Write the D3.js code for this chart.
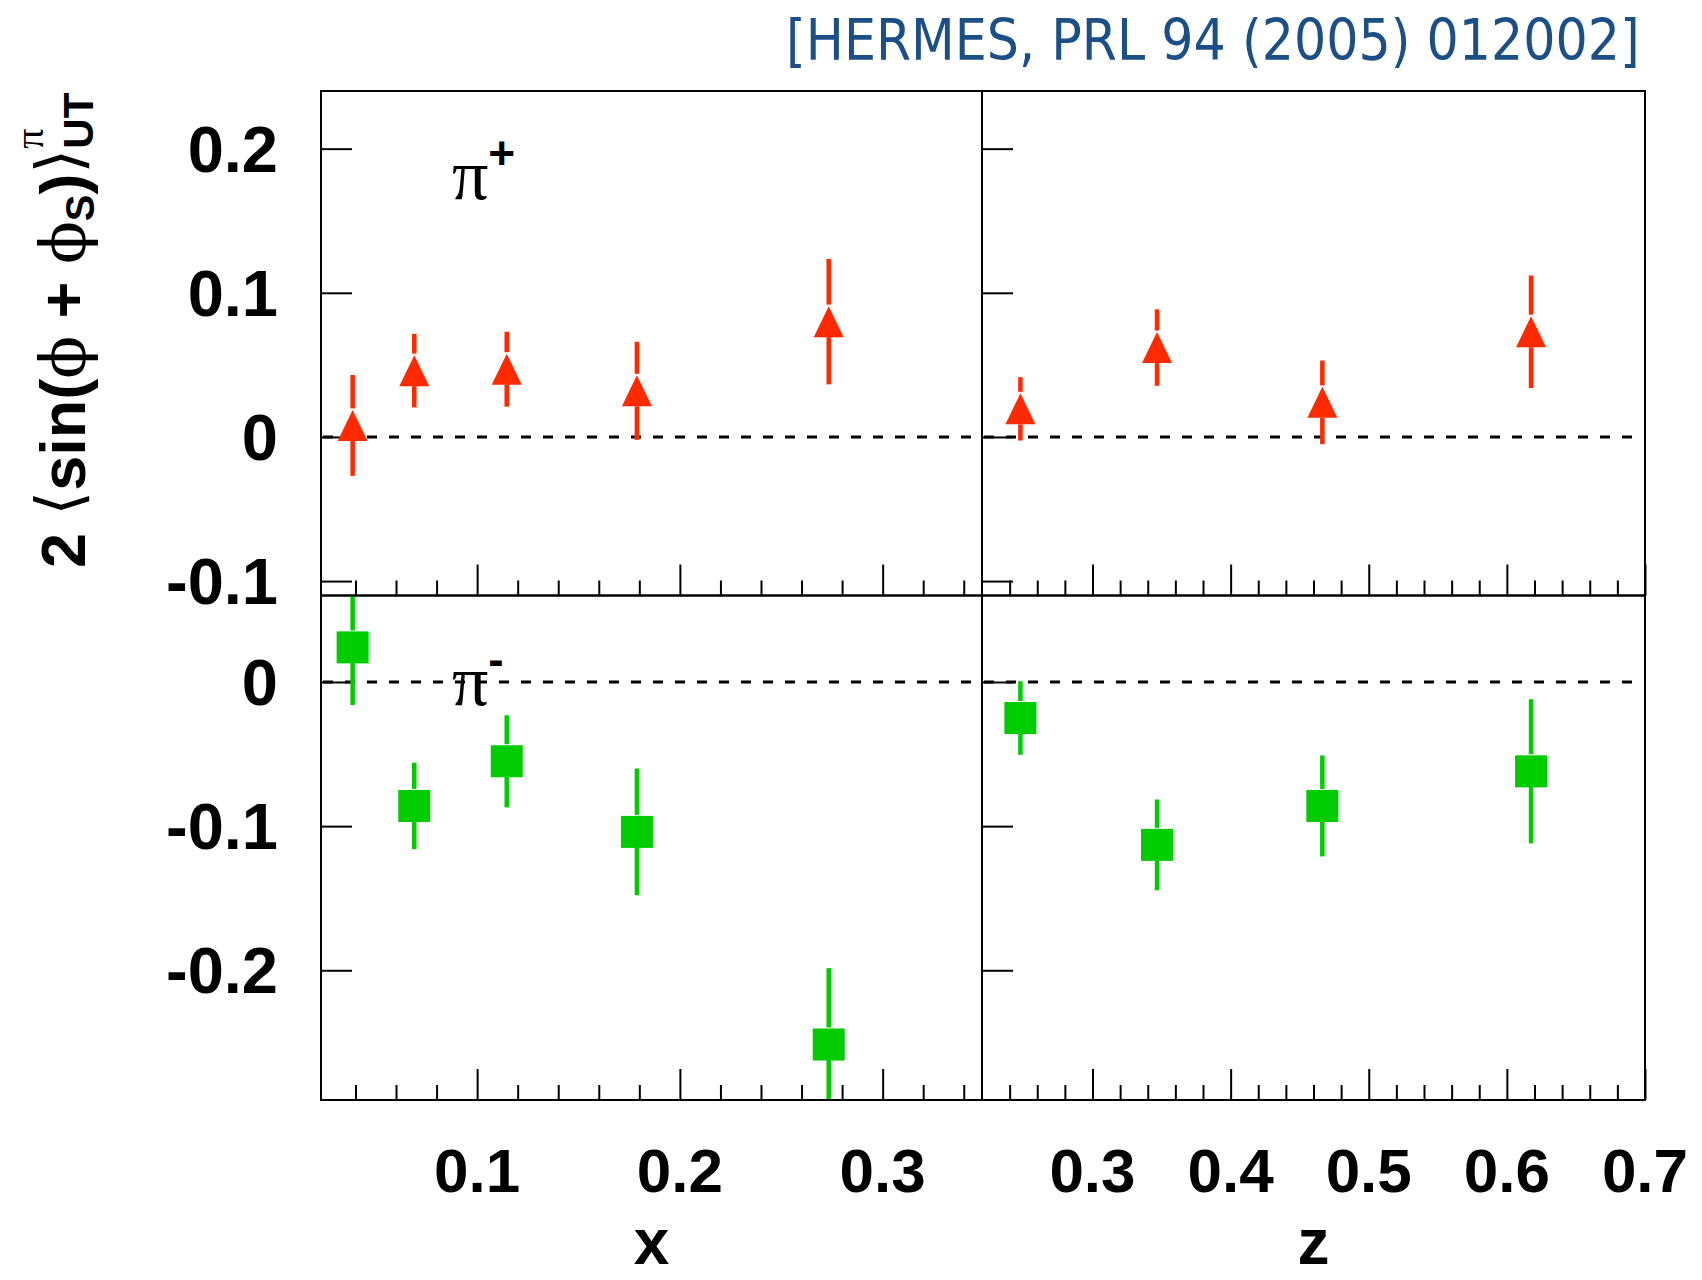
<!DOCTYPE html>
<html>
<head>
<meta charset="utf-8">
<script src="https://cdn.jsdelivr.net/npm/d3@7/dist/d3.min.js"></script>
<style>
  body { margin: 0; background: #fff; }
  svg { display: block; }
</style>
</head>
<body>
<div id="chart"></div>
<script>
// HERMES Collins-type moments, pi+ (top) and pi- (bottom), vs x (left) and z (right)

// bin centres
const xVals = [0.0386, 0.069, 0.1146, 0.1788, 0.2734];
const zVals = [0.2478, 0.3467, 0.4664, 0.6175];

// pi+ asymmetries and errors
const pipX = [0.008, 0.046, 0.047, 0.032, 0.080];
const pipXErr = [0.035, 0.0255, 0.026, 0.034, 0.0435];
const pipZ = [0.0195, 0.062, 0.024, 0.073];
const pipZErr = [0.022, 0.0265, 0.029, 0.039];

// pi- asymmetries and errors
const pimX = [0.024, -0.086, -0.055, -0.104, -0.2515];
const pimXErr = [0.040, 0.030, 0.032, 0.044, 0.053];
const pimZ = [-0.025, -0.113, -0.086, -0.062];
const pimZErr = [0.0255, 0.0315, 0.035, 0.050];

// ticks
const yTicksTop = [-0.1, 0, 0.1, 0.2];
const yTicksBot = [-0.2, -0.1, 0];
const yLabelsTop = ['-0.1', '0', '0.1', '0.2'];
const yLabelsBot = ['-0.2', '-0.1', '0'];
const xMajor = [0.1, 0.2, 0.3];
const xMinor = [0.04, 0.06, 0.08, 0.12, 0.14, 0.16, 0.18, 0.22, 0.24, 0.26, 0.28, 0.32, 0.34];
const xLabels = ['0.1', '0.2', '0.3'];
const zMajor = [0.3, 0.4, 0.5, 0.6, 0.7];
const zMinor = [0.24, 0.26, 0.28, 0.32, 0.34, 0.36, 0.38, 0.42, 0.44, 0.46, 0.48,
                0.52, 0.54, 0.56, 0.58, 0.62, 0.64, 0.66, 0.68];
const zLabels = ['0.3', '0.4', '0.5', '0.6', '0.7'];

const W = 1702, H = 1280;
const L = 321, M = 982, R = 1645;
const T = 91, MID = 595.5, B = 1100;

const RED = '#ff2a00';
const GREEN = '#00cc00';
const SANS = 'Liberation Sans, Arial, Helvetica, sans-serif';
const SERIF = 'Liberation Serif, Times New Roman, serif';
const PHI_FONT = 'DejaVu Serif, serif';

const xScale = d3.scaleLinear().domain([0.023, 0.349]).range([L, M]);
const zScale = d3.scaleLinear().domain([0.22, 0.70]).range([M, R]);
const yTop = d3.scaleLinear().domain([-0.11, 0.24]).range([MID, T]);
const yBot = d3.scaleLinear().domain([-0.29, 0.06]).range([B, MID]);

const svg = d3.select('#chart').append('svg')
  .attr('width', W)
  .attr('height', H);

svg.append('rect').attr('width', W).attr('height', H).attr('fill', '#fff');

const defs = svg.append('defs');

const panels = [
  {id: 'ul', sx: xScale, sy: yTop, xs: xVals, vals: pipX, errs: pipXErr, marker: 'tri', color: RED},
  {id: 'ur', sx: zScale, sy: yTop, xs: zVals, vals: pipZ, errs: pipZErr, marker: 'tri', color: RED},
  {id: 'll', sx: xScale, sy: yBot, xs: xVals, vals: pimX, errs: pimXErr, marker: 'sq', color: GREEN},
  {id: 'lr', sx: zScale, sy: yBot, xs: zVals, vals: pimZ, errs: pimZErr, marker: 'sq', color: GREEN}
];

panels.forEach(function(p) {
  const x0 = p.sx.range()[0], x1 = p.sx.range()[1];
  const y0 = p.sy.range()[1], y1 = p.sy.range()[0];

  defs.append('clipPath').attr('id', 'clip-' + p.id)
    .append('rect').attr('x', x0).attr('y', y0).attr('width', x1 - x0).attr('height', y1 - y0);

  const g = svg.append('g').attr('class', 'panel');

  // y ticks (left side, pointing inward)
  g.append('g')
    .attr('transform', `translate(${x0},0)`)
    .call(d3.axisRight(p.sy).tickValues(p.sy === yTop ? yTicksTop : yTicksBot).tickSize(31).tickFormat(''))
    .call(a => a.select('.domain').remove())
    .call(a => a.selectAll('line').attr('stroke', '#000').attr('stroke-width', 2));

  // x ticks (bottom, pointing up)
  const major = p.sx === xScale ? xMajor : zMajor;
  const minor = p.sx === xScale ? xMinor : zMinor;
  g.append('g')
    .attr('transform', `translate(0,${y1})`)
    .call(d3.axisTop(p.sx).tickValues(major).tickSize(31).tickFormat(''))
    .call(a => a.select('.domain').remove())
    .call(a => a.selectAll('line').attr('stroke', '#000').attr('stroke-width', 2));
  g.append('g')
    .attr('transform', `translate(0,${y1})`)
    .call(d3.axisTop(p.sx).tickValues(minor).tickSize(15).tickFormat(''))
    .call(a => a.select('.domain').remove())
    .call(a => a.selectAll('line').attr('stroke', '#000').attr('stroke-width', 2));

  // zero line
  g.append('line')
    .attr('x1', x0 + 2).attr('x2', x1 - 8)
    .attr('y1', p.sy(0)).attr('y2', p.sy(0))
    .attr('stroke', '#000').attr('stroke-width', 3)
    .attr('stroke-dasharray', '10,12');

  // data
  const dg = g.append('g').attr('clip-path', `url(#clip-${p.id})`);
  const half = 15.5;
  p.xs.forEach(function(xv, i) {
    const cx = p.sx(xv);
    const cy = p.sy(p.vals[i]);
    const yHi = p.sy(p.vals[i] + p.errs[i]);
    const yLo = p.sy(p.vals[i] - p.errs[i]);
    dg.append('line')
      .attr('x1', cx).attr('x2', cx)
      .attr('y1', yHi).attr('y2', Math.min(cy - half - 1.5, yLo))
      .attr('stroke', p.color).attr('stroke-width', 4.5);
    dg.append('line')
      .attr('x1', cx).attr('x2', cx)
      .attr('y1', cy + half).attr('y2', yLo)
      .attr('stroke', p.color).attr('stroke-width', 4.5);
    if (p.marker === 'tri') {
      dg.append('path')
        .attr('d', `M${cx},${cy - half} L${cx + 15},${cy + half} L${cx - 15},${cy + half} Z`)
        .attr('fill', p.color);
    } else {
      dg.append('rect')
        .attr('x', cx - 16).attr('y', cy - 16)
        .attr('width', 32).attr('height', 32)
        .attr('fill', p.color);
    }
  });

  // frame
  g.append('rect')
    .attr('x', x0).attr('y', y0)
    .attr('width', x1 - x0).attr('height', y1 - y0)
    .attr('fill', 'none').attr('stroke', '#000').attr('stroke-width', 2);
});

// y tick labels
const yl = svg.append('g')
  .attr('font-family', SANS).attr('font-weight', 'bold').attr('font-size', 65)
  .attr('text-anchor', 'end');
yTicksTop.forEach(function(v, i) {
  yl.append('text').attr('x', 278).attr('y', yTop(v) + 23).text(yLabelsTop[i]);
});
yTicksBot.forEach(function(v, i) {
  yl.append('text').attr('x', 278).attr('y', yBot(v) + 23).text(yLabelsBot[i]);
});

// x tick labels
const xl = svg.append('g')
  .attr('font-family', SANS).attr('font-weight', 'bold').attr('font-size', 62)
  .attr('text-anchor', 'middle');
xMajor.forEach(function(v, i) {
  xl.append('text').attr('x', xScale(v)).attr('y', 1192).text(xLabels[i]);
});
zMajor.forEach(function(v, i) {
  xl.append('text').attr('x', zScale(v)).attr('y', 1192).text(zLabels[i]);
});

// axis titles
svg.append('text')
  .attr('x', (L + M) / 2).attr('y', 1264)
  .attr('font-family', SANS).attr('font-weight', 'bold').attr('font-size', 64)
  .attr('text-anchor', 'middle').text('x');
svg.append('text')
  .attr('x', (M + R) / 2).attr('y', 1264)
  .attr('font-family', SANS).attr('font-weight', 'bold').attr('font-size', 64)
  .attr('text-anchor', 'middle').text('z');

// y title
const yt = svg.append('text')
  .attr('transform', 'translate(85,568) rotate(-90)')
  .attr('font-family', SANS).attr('font-weight', 'bold').attr('font-size', 63);
yt.append('tspan').text('2 ');
yt.append('tspan').attr('font-family', 'DejaVu Sans').attr('font-weight', 'normal').attr('dy', -4).text('\u27E8');
yt.append('tspan').attr('dy', 4).text('sin(');
yt.append('tspan').attr('font-family', PHI_FONT).attr('font-weight', 'normal').text('\u03D5');
yt.append('tspan').text(' + ');
yt.append('tspan').attr('font-family', PHI_FONT).attr('font-weight', 'normal').text('\u03D5');
yt.append('tspan').attr('font-size', 40).attr('dy', 9).text('S');
yt.append('tspan').attr('dy', -9).text(')');
yt.append('tspan').attr('font-family', 'DejaVu Sans').attr('font-weight', 'normal').attr('dy', -4).text('\u27E9');
yt.append('tspan').attr('font-family', SERIF).attr('font-weight', 'normal').attr('font-size', 40).attr('dy', -38).text('\u03C0');
yt.append('tspan').attr('font-size', 42).attr('dx', -20).attr('dy', 50).text('UT');

// pion labels
function pionLabel(x, y, sign) {
  const t = svg.append('text').attr('x', x).attr('y', y)
    .attr('font-family', SERIF).attr('font-size', 72);
  t.append('tspan').text('\u03C0');
  t.append('tspan').attr('font-family', SANS).attr('font-weight', 'bold')
    .attr('font-size', 46).attr('dy', -30).text(sign);
}
pionLabel(452, 199, '+');
pionLabel(452, 705, '-');

// reference, squeezed horizontally to the reference's width
const ref = svg.append('text')
  .attr('font-family', 'DejaVu Sans').attr('font-size', 57)
  .attr('fill', '#1d4f87')
  .text('[HERMES, PRL 94 (2005) 012002]');
const refLen = ref.node().getComputedTextLength();
ref.attr('transform', `translate(786,60) scale(${854 / refLen},1)`);
</script>
</body>
</html>
